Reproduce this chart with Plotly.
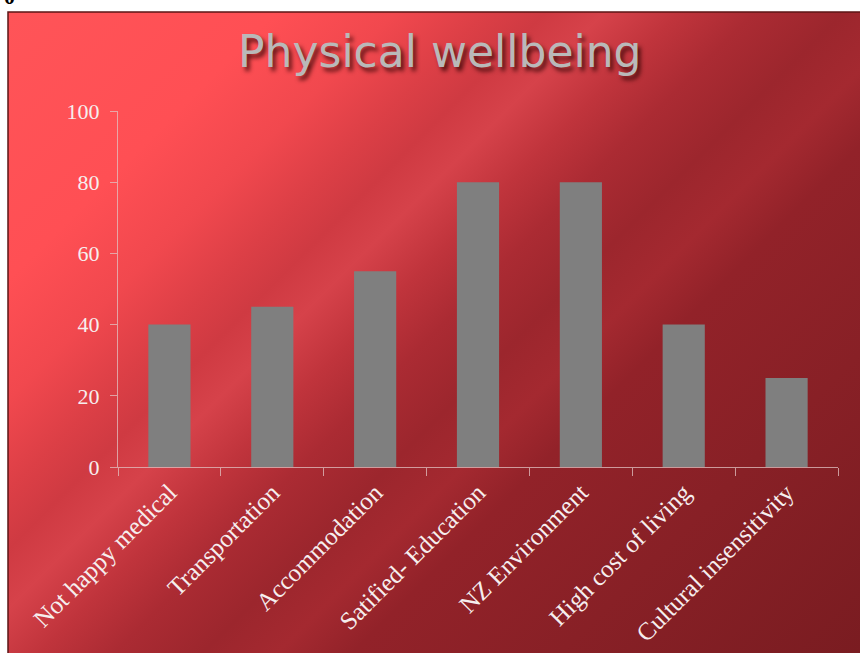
import base64
import plotly.graph_objects as go

# Survey categories and scores
categories = [
    "Not happy medical",
    "Transportation",
    "Accommodation",
    "Satified- Education",
    "NZ Environment",
    "High cost of living",
    "Cultural insensitivity",
]
scores = [40, 45, 55, 80, 80, 40, 25]
y_ticks = [0, 20, 40, 60, 80, 100]

W, H = 860, 653
SL, ST = 8, 12  # slide offset inside the page

# Slide background: diagonal red gradient with soft light streaks
stops = [
    (0.00, "#ff5458"), (0.18, "#ff4f54"), (0.26, "#f1484e"), (0.32, "#dc3f46"),
    (0.36, "#cf3a42"), (0.40, "#d6424a"), (0.45, "#c0343c"), (0.50, "#ab2b33"),
    (0.56, "#9c262d"), (0.61, "#a42930"), (0.66, "#922229"), (0.80, "#882026"),
    (1.00, "#7a1c21"),
]
sw, sh = W - SL, H - ST
d = (sw + sh) / 2
stop_xml = "".join(f'<stop offset="{o}" stop-color="{c}"/>' for o, c in stops)
svg = (
    f'<svg xmlns="http://www.w3.org/2000/svg" width="{sw}" height="{sh}">'
    f'<defs><linearGradient id="g" gradientUnits="userSpaceOnUse" x1="0" y1="0" x2="{d}" y2="{d}">'
    f'{stop_xml}</linearGradient></defs>'
    f'<rect x="0" y="0" width="{sw}" height="{sh}" fill="url(#g)"/></svg>'
)
bg_src = "data:image/svg+xml;base64," + base64.b64encode(svg.encode()).decode()

# Plot area in pixels
px0, px1 = 118, 838
py_top, py_bot = 111, 467

axis_col = "rgba(225,195,195,0.75)"
serif = "Liberation Serif, Times New Roman, serif"

fig = go.Figure(
    go.Bar(
        x=categories,
        y=scores,
        marker=dict(color="#7f7f7f", line=dict(width=0)),
        width=0.41,
    )
)

fig.update_layout(
    width=W,
    height=H,
    autosize=False,
    margin=dict(l=0, r=0, t=0, b=0, pad=0),
    paper_bgcolor="white",
    plot_bgcolor="rgba(0,0,0,0)",
    showlegend=False,
    images=[
        dict(
            source=bg_src, xref="paper", yref="paper",
            x=SL / W, y=1 - ST / H, sizex=sw / W, sizey=sh / H,
            xanchor="left", yanchor="top", sizing="stretch", layer="below",
        )
    ],
    shapes=[
        dict(
            type="rect", xref="paper", yref="paper",
            x0=SL / W, y0=-0.01, x1=1.01, y1=1 - ST / H,
            line=dict(color="#5c1616", width=1.5), fillcolor="rgba(0,0,0,0)",
            layer="below",
        )
    ],
    xaxis=dict(
        domain=[px0 / W, px1 / W],
        automargin=False,
        type="category",
        range=[-0.5, len(categories) - 0.5],
        showline=True, linecolor=axis_col, linewidth=1,
        ticks="outside", tickson="boundaries", ticklen=8, tickcolor=axis_col,
        tickangle=-45,
        tickfont=dict(family=serif, size=25, color="#f6eeee"),
        showgrid=False, zeroline=False,
    ),
    yaxis=dict(
        domain=[1 - py_bot / H, 1 - py_top / H],
        automargin=False,
        range=[0, 100],
        tickvals=y_ticks,
        showline=True, linecolor=axis_col, linewidth=1,
        ticks="outside", ticklen=7, tickcolor=axis_col,
        tickfont=dict(family=serif, size=22, color="#f6eeee"),
        ticklabelstandoff=6,
        showgrid=False, zeroline=False,
    ),
    annotations=[
        dict(
            text="Physical wellbeing", xref="paper", yref="paper",
            x=440 / W, y=1 - 51 / H, xanchor="center", yanchor="middle",
            showarrow=False,
            font=dict(family="DejaVu Sans, Verdana, sans-serif", size=44, color="#b9b9b9",
                      shadow="3px 4px 4px rgba(40,0,0,0.75)"),
        ),
        dict(
            text="<b>0</b>", xref="paper", yref="paper",
            x=9 / W, y=1 - 11 / H, xanchor="center", yanchor="bottom",
            showarrow=False,
            font=dict(family=serif, size=22, color="black"),
        ),
    ],
)

fig.write_html("out.html")
